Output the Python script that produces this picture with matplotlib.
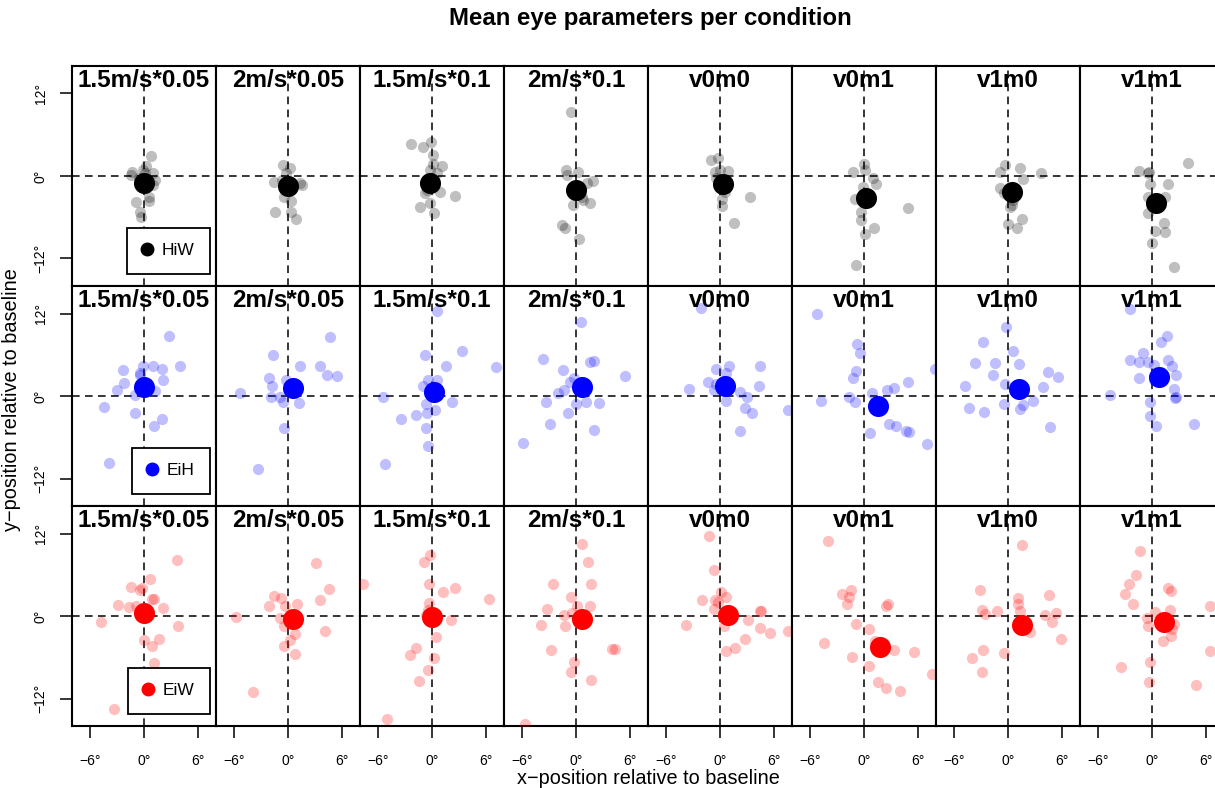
import matplotlib
matplotlib.use("Agg")
import matplotlib.pyplot as plt
from matplotlib.lines import Line2D

plt.rcParams['font.family'] = ['Liberation Sans', 'DejaVu Sans']

conditions = ["1.5m/s*0.05", "2m/s*0.05", "1.5m/s*0.1", "2m/s*0.1",
              "v0m0", "v0m1", "v1m0", "v1m1"]
groups = ["HiW", "EiH", "EiW"]
group_colors = ["black", "blue", "red"]

# HiW: individual participants (x, y in degrees) per condition
hiw_x = [
    [0.8, -1.3, -1.4, -0.1, 0.2, 1.0, -0.6, 1.2, 1.0, 0.5, 0.6, -0.9, -0.4, -0.3, 0.1],
    [-0.6, 0.2, -1.6, 1.5, 1.3, -0.5, 0.3, 0.9, -1.4, 0.3, -0.2, -0.7],
    [-2.3, -1.0, -0.1, 0.1, 0.1, 1.1, -0.2, 0.9, 2.6, -0.8, -1.3, -0.2, 0.2, -0.6, 0.5],
    [-0.6, -1.1, 0.2, 1.9, 1.2, 0.7, 1.6, -0.3, -1.6, -1.2, 0.3, -1.0, 0.8],
    [-1.0, -0.2, -0.6, 0.9, -0.4, 0.6, 0.2, 0.2, 3.3, 1.6, 0.0],
    [0.0, -1.2, 0.1, 1.0, 1.3, -1.0, -0.3, -0.3, 1.1, 0.1, 4.9, -0.9, -0.1],
    [-0.3, -0.9, 1.3, 1.7, 3.7, -0.9, -0.5, 0.4, 0.2, 1.6, 1.0, 0.0, 0.6],
    [4.0, -1.4, -0.3, -0.2, 1.8, -0.4, 1.4, -0.4, 1.3, 1.4, 0.3, 0.0, 2.4, -0.4],
]
hiw_y = [
    [2.9, 0.6, 0.2, 0.9, 1.4, 0.5, -0.3, -0.6, -1.3, -3.0, -3.7, -3.8, -5.3, -5.9, 0.4],
    [1.6, 1.1, -0.9, -1.3, -1.0, -3.0, -3.7, -6.2, -5.2, -5.2, 0.4, -0.6],
    [4.7, 4.2, 4.9, 3.1, 1.8, 1.5, 0.9, -2.3, -2.9, -2.5, -4.5, -4.0, -5.4, -2.0, 0.4],
    [9.3, 0.9, 0.6, -0.8, -1.0, -3.1, -4.0, -4.2, -7.2, -7.6, -9.1, 0.2, -3.5],
    [2.3, 2.6, 0.6, 0.7, -0.3, -2.3, -3.3, -4.4, -3.1, -6.8, 0.9],
    [1.8, 0.6, 0.9, -0.3, -1.1, -3.4, -5.2, -6.4, -7.5, -8.5, -4.7, -13.0, -1.6],
    [1.6, 0.6, 1.1, -0.5, 0.5, -1.7, -2.5, -4.2, -4.5, -6.3, -7.5, -7.0, -3.5],
    [1.9, 0.7, 0.6, -1.1, -1.2, -3.0, -3.1, -5.4, -6.8, -8.1, -8.0, -9.7, -13.2, 0.4],
]
hiw_mean_x = [0.0, 0.0, -0.2, 0.0, 0.3, 0.2, 0.4, 0.4]
hiw_mean_y = [-1.0, -1.4, -1.0, -2.0, -1.2, -3.2, -2.4, -3.9]

# EiH
eih_x = [
    [2.8, 4.0, -2.3, 1.0, 2.0, -0.1, -0.4, -2.2, -3.0, 2.1, 1.2, -1.0, -4.5, -1.0, 2.0, 1.1, -3.9, -0.4],
    [4.7, -1.7, 1.3, 3.6, 4.3, 5.4, -2.1, -1.8, -0.2, -5.3, -1.9, -0.6, 1.2, -0.5, -3.3, -0.9],
    [0.5, -0.8, 3.3, 1.6, 7.1, 0.5, -0.4, -1.0, 2.2, -0.7, -1.8, -0.6, 0.3, -0.7, -0.5, -3.4, -5.4, -5.2],
    [0.6, -3.7, 1.5, 2.0, -1.4, 5.4, -0.2, -0.7, -1.3, -2.0, -3.3, 0.0, 1.1, 2.5, -0.9, -2.9, 2.0, -5.9],
    [-2.1, 1.0, -0.4, 4.4, 0.7, -1.3, -3.5, -0.7, 4.3, 2.2, 3.0, 0.7, 2.8, 3.5, 2.2, 7.5, -0.4],
    [-5.2, -0.8, -0.5, -0.9, -1.2, -4.8, -1.7, -1.0, 0.9, 2.6, 3.3, 4.9, 7.9, 2.8, 3.6, 4.7, 5.0, 0.7, 7.0],
    [-0.2, -2.8, 0.5, -3.7, -1.5, 1.2, -1.7, 4.4, 5.5, -4.8, -0.3, 3.9, -4.3, -2.7, -0.5, 2.8, 1.7, 1.3, 4.7],
    [-2.4, 1.7, 1.0, -1.0, -2.5, -1.5, -0.4, 0.2, 1.8, 2.2, -1.5, 2.7, 2.4, 2.7, 2.6, -4.7, -0.2, -0.2, 0.4, 4.7, 0.2],
]
eih_y = [
    [8.7, 4.3, 3.8, 4.3, 4.0, 4.3, 3.1, 1.9, 0.9, 2.4, 0.7, 0.2, -1.6, -2.5, -3.4, -4.4, -9.7, 3.3],
    [8.6, 6.0, 4.4, 4.3, 3.1, 2.9, 2.6, 1.5, 2.3, 0.4, -0.1, -0.8, -1.0, -4.6, -10.6, -0.2],
    [12.3, 6.0, 6.6, 4.4, 4.2, 2.3, 2.3, 1.5, -0.8, -1.2, -2.8, -2.4, -2.0, -4.6, -7.2, -3.4, -0.1, -9.9],
    [10.8, 5.4, 4.9, 5.1, 3.8, 2.9, 2.6, 2.1, 0.9, 0.4, -0.8, -1.1, -0.8, -1.0, -2.4, -4.0, -5.0, -6.8],
    [12.8, 4.4, 4.0, 4.3, 3.4, 2.1, 1.0, 0.9, 1.4, 0.6, -0.2, -0.7, -1.8, -2.4, -5.1, -2.0, 1.8],
    [11.9, 7.5, 6.2, 3.6, 2.6, -0.7, -0.1, -0.8, 0.4, 0.9, 1.1, 2.0, 4.0, -4.1, -4.3, -5.1, -5.3, -5.4, -7.0],
    [10.0, 7.8, 6.6, 4.8, 4.8, 4.7, 3.1, 3.5, 2.8, 1.4, 1.8, 1.3, -1.8, -2.3, -1.1, -0.7, -1.3, -1.9, -4.5],
    [12.6, 8.7, 7.8, 6.2, 5.3, 4.9, 5.0, 4.5, 5.2, 4.4, 2.6, 3.1, 1.0, -0.1, -0.3, 0.1, -0.9, -2.9, -4.3, -4.0, 2.3],
]
eih_mean_x = [0.0, 0.5, 0.2, 0.7, 0.6, 1.6, 1.2, 0.8]
eih_mean_y = [1.3, 1.1, 0.6, 1.3, 1.4, -1.5, 1.0, 2.8]

# EiW
eiw_x = [
    [3.7, 0.7, -1.4, -0.2, -0.4, 1.1, 0.9, -2.9, -1.7, -0.9, 2.1, 0.5, -4.8, 3.8, 0.0, 0.9, 1.7, 1.1, -3.3],
    [3.1, 4.5, 3.6, -1.6, -0.8, -2.1, 1.0, -0.3, -5.8, -0.9, -0.5, 0.8, 4.1, 0.2, -0.4, 0.8, -3.9],
    [-0.2, -0.9, -0.3, 1.2, 2.6, 6.3, -0.3, -0.4, -0.7, 2.1, 0.4, 0.2, -1.8, -2.5, -0.4, -1.4, -7.7, -5.0],
    [0.7, 1.3, 1.7, -2.6, -0.6, 0.1, 1.6, -3.2, -1.3, -0.4, -3.9, -1.2, -2.8, 4.0, 4.3, -0.2, -0.6, 1.7, -5.7],
    [-1.2, -0.7, 0.1, 0.7, -2.0, -0.6, -0.2, -0.7, 4.4, 4.6, 3.1, 0.4, 4.4, 5.5, 2.8, 1.7, 0.7, -3.8, 7.5],
    [-4.0, -2.5, -1.4, -1.7, -1.9, 2.4, 2.7, -0.9, 0.5, -4.4, 1.2, 3.3, -1.3, 5.6, 7.6, 0.6, 1.5, 2.4, 4.0],
    [1.5, -3.1, 4.6, 1.1, 1.1, -2.9, -2.6, -1.2, 1.3, 4.1, 5.3, 4.9, 2.4, 5.9, -2.8, -0.5, -4.0, -2.9],
    [-1.3, -1.8, -2.6, -3.0, -2.1, 1.8, 2.1, 6.4, 2.0, 0.3, -0.6, -0.4, 2.4, 2.2, 2.1, 1.2, 6.4, -3.5, -0.2, -0.3, 4.9],
]
eiw_y = [
    [8.2, 5.4, 4.2, 4.1, 3.8, 2.5, 2.5, 1.6, 1.3, 1.4, 1.1, 0.2, -0.8, -1.5, -3.5, -4.4, -3.4, -6.8, -13.5],
    [7.7, 3.9, 2.4, 2.9, 2.6, 1.4, 1.7, 1.5, -0.2, -0.3, -1.5, -2.6, -2.2, -3.5, -4.4, -5.5, -11.0],
    [8.9, 7.9, 4.7, 3.5, 4.1, 2.5, 1.9, 0.9, 0.1, -0.6, -3.1, -6.1, -4.7, -5.6, -7.8, -9.5, 4.7, -15.0],
    [10.5, 7.9, 4.7, 4.7, 2.7, 1.5, 1.5, 1.0, 0.2, 0.5, -1.3, -1.4, -5.0, -4.8, -4.8, -6.7, -8.1, -9.3, -15.7],
    [11.7, 6.7, 3.5, 2.8, 2.4, 2.4, 2.0, 1.0, 0.8, 0.7, -0.6, -1.4, -1.8, -2.5, -3.3, -4.6, -5.1, -1.3, -2.2],
    [10.9, 3.2, 3.8, 2.8, 1.7, 1.5, 1.8, -1.1, -1.9, -3.9, -3.7, -5.0, -6.0, -5.3, -8.4, -7.2, -9.6, -10.5, -10.9],
    [10.4, 3.8, 3.1, 2.6, 1.8, 0.9, 0.3, 0.7, 0.8, 0.1, 0.4, -0.9, -2.3, -3.4, -5.0, -5.4, -6.1, -8.2],
    [9.5, 5.9, 4.6, 3.2, 1.7, 4.1, 3.6, 1.5, 0.9, 0.6, -0.3, -1.4, -1.1, -1.9, -2.9, -3.6, -5.1, -7.4, -6.7, -9.6, -10.1],
]
eiw_mean_x = [0.0, 0.5, 0.0, 0.7, 0.9, 1.8, 1.5, 1.3]
eiw_mean_y = [0.4, -0.4, -0.2, -0.5, 0.2, -4.5, -1.3, -0.9]

x_ticks = [-6, 0, 6]
x_ticklabels = ["\u22126\u00b0", "0\u00b0", "6\u00b0"]
y_ticks = [-12, 0, 12]
y_ticklabels = ["\u221212\u00b0", "0\u00b0", "12\u00b0"]

all_x = [hiw_x, eih_x, eiw_x]
all_y = [hiw_y, eih_y, eiw_y]
all_mx = [hiw_mean_x, eih_mean_x, eiw_mean_x]
all_my = [hiw_mean_y, eih_mean_y, eiw_mean_y]

W, H = 1215, 788
fig = plt.figure(figsize=(W / 100, H / 100), dpi=100)

left0, top0, pw, ph = 72, 66, 144, 220

for r in range(3):
    for c in range(8):
        ax = fig.add_axes([(left0 + c * pw) / W, 1 - (top0 + (r + 1) * ph) / H, pw / W, ph / H])
        ax.set_xlim(-8, 8)
        ax.set_ylim(-16, 16)
        ax.axhline(0, color='black', ls=(0, (5, 3.5)), lw=1.1, zorder=2)
        ax.axvline(0, color='black', ls=(0, (5, 3.5)), lw=1.1, zorder=2)
        col = group_colors[r]
        ax.scatter(all_x[r][c], all_y[r][c], s=65, color=col, alpha=0.25,
                   linewidths=0, zorder=3)
        ax.scatter([all_mx[r][c]], [all_my[r][c]], s=230, color=col,
                   linewidths=0, zorder=4)
        ax.text(0.5, 0.985, conditions[c], transform=ax.transAxes, ha='center',
                va='top', fontsize=17.5, fontweight='bold', zorder=1)
        for sp in ax.spines.values():
            sp.set_linewidth(1.5)
        if r == 2:
            ax.set_xticks(x_ticks)
            ax.set_xticklabels(x_ticklabels, fontsize=10)
            ax.tick_params(axis='x', length=8.5, width=1.1, pad=12)
        else:
            ax.set_xticks([])
        if c == 0:
            ax.set_yticks(y_ticks)
            ax.set_yticklabels(y_ticklabels, fontsize=10, rotation=90, va='center')
            ax.tick_params(axis='y', length=8.5, width=1.1, pad=9)
            handle = Line2D([], [], marker='o', color=col, linestyle='none', markersize=9)
            leg = ax.legend([handle], [groups[r]], loc='lower right',
                            bbox_to_anchor=(1 - 6 / pw, 12 / ph), borderaxespad=0,
                            fancybox=False, edgecolor='black', framealpha=1,
                            fontsize=12.5, handlelength=0.5, handletextpad=0.6,
                            borderpad=0.9)
            leg.get_frame().set_linewidth(1.3)
            leg.set_zorder(5)
        else:
            ax.set_yticks([])

fig.text(650 / W, 1 - 18 / H, "Mean eye parameters per condition", ha='center',
         va='center', fontsize=17.3, fontweight='bold')
fig.text(648 / W, 1 - 779 / H, "x\u2212position relative to baseline", ha='center',
         va='center', fontsize=14.3)
fig.text(12 / W, 1 - 400 / H, "y\u2212position relative to baseline", ha='center',
         va='center', rotation=90, fontsize=14.3)

fig.savefig("out.png", dpi=100)
